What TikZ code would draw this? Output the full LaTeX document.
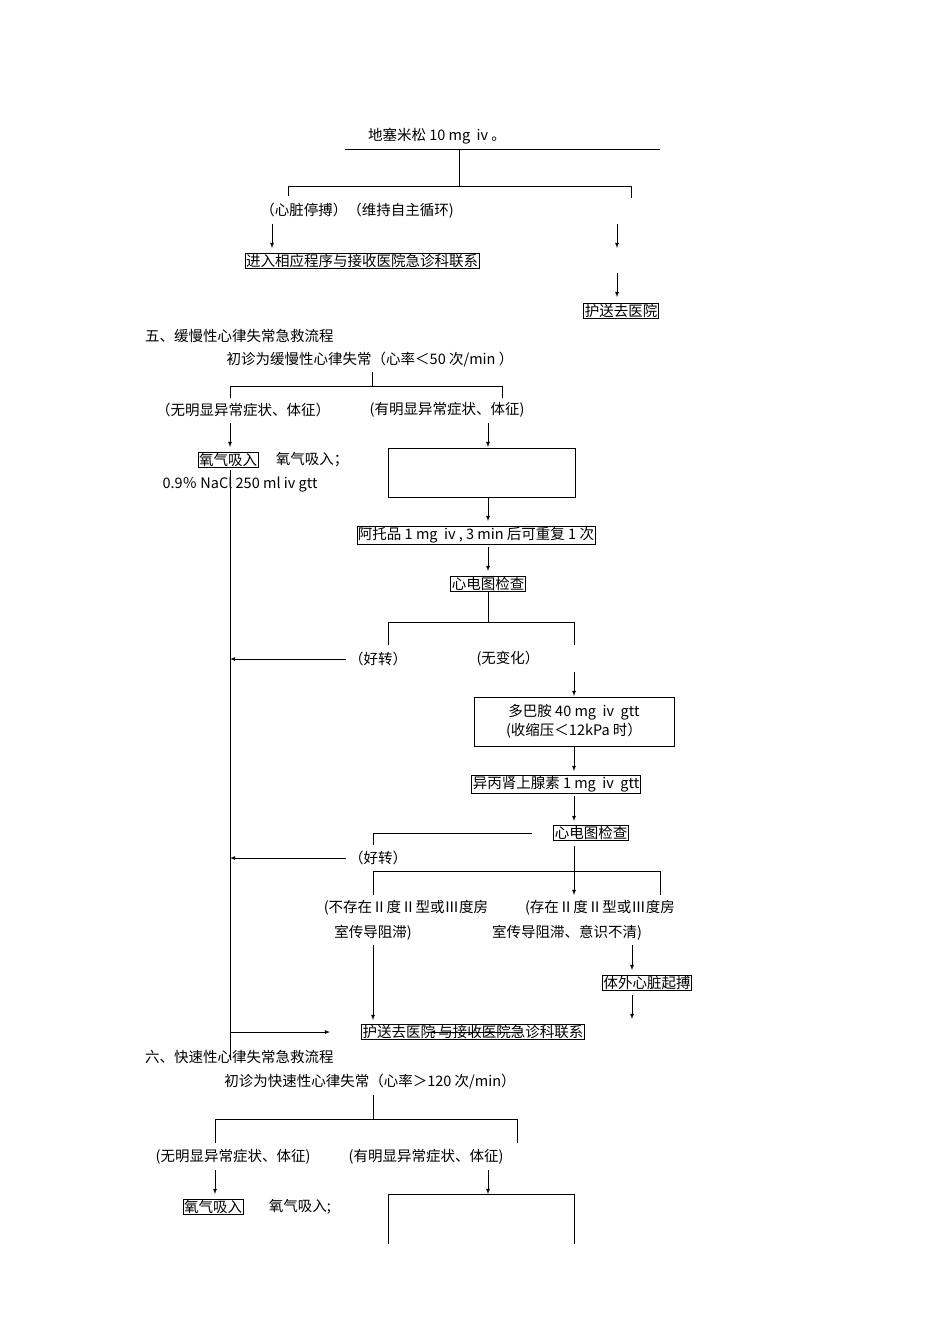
\documentclass[tikz,border=0pt]{standalone}
\usepackage{fontspec}
\setmainfont{Noto Sans CJK SC}
\begin{document}
\begin{tikzpicture}[x=1pt,y=-1pt,font=\fontsize{14.5}{16}\selectfont,
 bx/.style={draw,inner sep=1pt,line width=0.6pt},
 tx/.style={inner sep=0pt},
 ln/.style={line width=0.8pt},
 ar/.style={-latex,line width=0.8pt}]
\useasboundingbox (0,0) rectangle (950,1344);
% top
\node[tx] (t0) at (437,136) {地塞米松 10 mg\ \ iv 。};
\draw[ln] (345,149) -- (660,149);
\draw[ln] (459,149) -- (459,186);
\draw[ln] (288,196) -- (288,186) -- (631,186) -- (631,198);
\node[tx] (t1) at (357,211) {（心脏停搏）（维持自主循环)};
\coordinate (a1) at (272,224);
\node[bx] (b1) at (362,261) {进入相应程序与接收医院急诊科联系};
\draw[ar] (a1) -- (272,248);
\coordinate (a2) at (617,224); \coordinate (a2e) at (617,248);
\draw[ar] (a2) -- (a2e);
\coordinate (a3) at (617,273);
\node[bx] (b2) at (621,311) {护送去医院};
\draw[ar] (a3) -- (617,297);
% section 5
\node[tx,anchor=west] (s5) at (145,336) {五、缓慢性心律失常急救流程};
\node[tx] (d5) at (370,360) {初诊为缓慢性心律失常（心率＜50 次/min ）};
\draw[ln] (372,372) -- (372,386);
\draw[ln] (230,398) -- (230,386) -- (502,386) -- (502,398);
\node[tx] (n1) at (243,410) {（无明显异常症状、体征）};
\node[tx] (n2) at (447,410) {(有明显异常症状、体征)};
\draw[ar] (230,423) -- (230,447);
\node[bx] (o1) at (228,460) {氧气吸入};
\node[tx] (o2) at (312,460) {氧气吸入；};
\node[tx] (o3) at (240,485) {0.9％ NaCl 250 ml iv gtt};
\draw[ar] (488,423) -- (488,447);
\node[draw,line width=0.6pt,minimum width=187pt,minimum height=49pt,inner sep=0pt] (eb) at (481.5,472.5) {};
\draw[ln] (230,470) -- (230,1060);
\draw[ar] (eb.south -| 488,0) -- (488,521);
\node[bx] (at) at (476,535) {阿托品 1 mg\ \ iv , 3 min 后可重复 1 次};
\draw[ar] (488,547) -- (488,571);
\node[bx] (ecg1) at (488,584) {心电图检查};
\draw[ln] (ecg1) -- (488,622);
\draw[ln] (388,645) -- (388,622) -- (574,622) -- (574,645);
\node[tx] (h1) at (378,659) {（好转）};
\draw[ar] (h1.west) ++(-3,0) -- (230,659);
\node[tx] (wb) at (508,659) {(无变化）};
\draw[ar] (574,672) -- (574,696);
\node[draw,line width=0.6pt,minimum width=200pt,minimum height=49pt,inner sep=0pt,align=center] (dp) at (574,721.5) {多巴胺 40 mg\ \ iv\ \ gtt\\[2pt](收缩压＜12kPa 时）};
\draw[ar] (dp.south) -- (574,771);
\node[bx] (yb) at (556,784) {异丙肾上腺素 1 mg\ \ iv\ \ gtt};
\draw[ar] (574,796) -- (574,821);
\node[bx] (ecg2) at (591,833) {心电图检查};
\draw[ln] (532,833) -- (373,833) -- (373,845);
\node[tx] (h2) at (378,858) {（好转）};
\draw[ar] (h2.west) ++(-3,0) -- (230,858);
\draw[ar] (574,846) -- (574,895);
\draw[ln] (373,895) -- (373,871) -- (660,871) -- (660,895);
\node[tx] (c1) at (406,908) {(不存在Ⅱ度Ⅱ型或Ⅲ度房};
\node[tx] (c2) at (373,933) {室传导阻滞)};
\node[tx] (c3) at (600,908) {(存在Ⅱ度Ⅱ型或Ⅲ度房};
\node[tx] (c4) at (567,933) {室传导阻滞、意识不清)};
\draw[ar] (373,945) -- (373,1020);
\draw[ar] (632,945) -- (632,970);
\node[bx] (tw) at (647,983) {体外心脏起搏};
\draw[ar] (632,995) -- (632,1019);
\node[bx] (hs) at (473,1032) {护送去医院\ 与接收医院急诊科联系};
\draw[ar] (522,1032) -- (430,1032);
\draw[ar] (230,1032) -- (330,1032);
% section 6
\node[tx,anchor=west] (s6) at (145,1057) {六、快速性心律失常急救流程};
\node[tx] (d6) at (370,1082) {初诊为快速性心律失常（心率＞120 次/min）};
\draw[ln] (373,1095) -- (373,1119);
\draw[ln] (215,1143) -- (215,1119) -- (517,1119) -- (517,1143);
\node[tx] (m1) at (233,1157) {(无明显异常症状、体征)};
\node[tx] (m2) at (426,1157) {(有明显异常症状、体征)};
\draw[ar] (215,1170) -- (215,1194);
\node[bx] (p1) at (213,1207) {氧气吸入};
\node[tx] (p2) at (300,1207) {氧气吸入;};
\draw[ar] (488,1170) -- (488,1194);
\draw[ln] (388,1244) -- (388,1194) -- (574,1194) -- (574,1244);
\end{tikzpicture}
\end{document}
